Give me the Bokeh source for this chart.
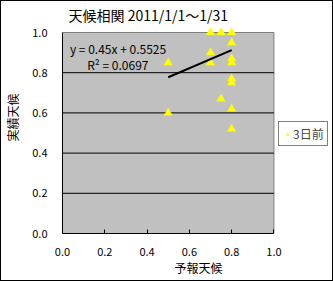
from bokeh.plotting import figure
from bokeh.models import Range1d, Label, Legend, LegendItem, FixedTicker, PrintfTickFormatter
from bokeh.embed import file_html
from bokeh.resources import INLINE

forecast = [0.7, 0.75, 0.8, 0.8, 0.7, 0.5, 0.7, 0.8, 0.8, 0.8, 0.8, 0.75, 0.8, 0.5, 0.8]
actual   = [1.0, 1.0, 1.0, 0.95, 0.9, 0.85, 0.85, 0.87, 0.85, 0.77, 0.75, 0.67, 0.62, 0.6, 0.52]
slope, intercept = 0.45, 0.5525
r2 = 0.0697
ticks = [0.0, 0.2, 0.4, 0.6, 0.8, 1.0]
series_name = "3日前"
title_text = "天候相関 2011/1/1～1/31"

FONT = "Noto Sans CJK JP"

# frame spans beyond the 0..1 plot area so that title/legend (annotations) are not clipped
W, H = 333, 281
left_b, bottom_b = 59, 49
px_per_unit_x, px_per_unit_y = 213.0, 201.0
x_end = (W - left_b) / px_per_unit_x
y_end = (H - bottom_b) / px_per_unit_y

p = figure(width=W, height=H, output_backend="svg", toolbar_location=None,
           x_range=Range1d(0, x_end), y_range=Range1d(0, y_end),
           min_border_left=left_b, min_border_right=0, min_border_top=0, min_border_bottom=bottom_b)
p.styles = {"border": "1px solid black", "box-sizing": "border-box"}
p.background_fill_color = "white"
p.border_fill_color = "white"
p.outline_line_color = None

lo, hi = ticks[0], ticks[-1]
# plot area
p.quad(left=[lo], right=[hi], bottom=[lo], top=[hi], fill_color="#C0C0C0", line_color="#808080", line_width=1)
# horizontal gridlines
inner = ticks[1:-1]
p.segment(x0=[lo] * len(inner), x1=[hi] * len(inner), y0=inner, y1=inner, line_color="black", line_width=1)

for ax in (p.xaxis[0], p.yaxis[0]):
    ax.ticker = FixedTicker(ticks=ticks)
    ax.formatter = PrintfTickFormatter(format="%.1f")
    ax.bounds = (lo, hi)
    ax.axis_line_color = "black"
    ax.minor_tick_line_color = None
    ax.major_label_text_font = FONT
    ax.major_label_text_font_size = "11px"
    ax.major_label_text_color = "black"
    ax.axis_label_text_font = FONT
    ax.axis_label_text_font_size = "12px"
    ax.axis_label_text_font_style = "normal"
    ax.axis_label_text_color = "black"
p.xaxis.major_tick_in = 4
p.xaxis.major_tick_out = 0
p.xaxis.major_label_standoff = 14
p.xaxis.axis_label = "予報天候"
p.xaxis.axis_label_standoff = 0
p.yaxis.major_tick_in = 0
p.yaxis.major_tick_out = 0
p.yaxis.major_label_standoff = 15
p.yaxis.axis_label = "実績天候"
p.yaxis.axis_label_standoff = 8

p.xgrid.grid_line_color = None
p.ygrid.grid_line_color = None

r = p.scatter(forecast, actual, marker="triangle", size=9, fill_color="#FFFF00", line_color=None)

x0, x1 = min(forecast), max(forecast)
p.line([x0, x1], [slope * x0 + intercept, slope * x1 + intercept], line_color="black", line_width=2)

p.add_layout(Label(x=0.035, y=0.92, text=f"y = {slope}x + {intercept}", text_font=FONT,
                   text_font_size="12px", text_baseline="middle", text_color="black"))
p.add_layout(Label(x=0.117, y=0.843, text=f"R² = {r2}", text_font=FONT,
                   text_font_size="12px", text_baseline="middle", text_color="black"))

p.add_layout(Label(x=6, y=H - bottom_b - 13, x_units="screen", y_units="screen", text=title_text,
                   text_font=FONT, text_font_size="14px", text_baseline="middle", text_color="black"))

legend = Legend(items=[LegendItem(label=series_name, renderers=[r])], location=(216, 87),
                label_text_font=FONT, label_text_font_size="12px", border_line_color="black",
                background_fill_color="white", background_fill_alpha=1,
                glyph_width=10, glyph_height=12, label_standoff=1, padding=3, margin=0,
                spacing=0, label_height=12)
p.add_layout(legend)

open("out.html", "w").write(file_html(p, INLINE))
